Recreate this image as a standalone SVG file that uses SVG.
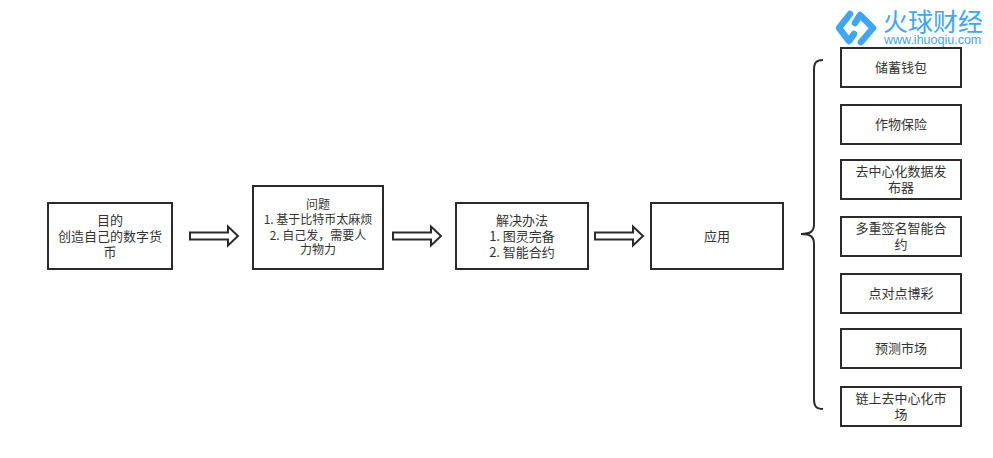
<svg xmlns="http://www.w3.org/2000/svg" width="993" height="458" viewBox="0 0 993 458">
<style>
.b{fill:#fff;stroke:#2b2b2b;stroke-width:2}
.t{font-family:"Noto Sans CJK SC","Liberation Sans",sans-serif;font-size:13px;fill:#333;text-anchor:middle}
.s{font-size:12px}
.a{fill:#fff;stroke:#2b2b2b;stroke-width:2}
.l{fill:none;stroke:#3fa5f8;stroke-width:6.500;stroke-linecap:round;stroke-linejoin:round}
</style>
<rect width="993" height="458" fill="#fff"/>
<g id="connectors">
<path class="a" d="M190 232.500H228V226.500L238 236L228 245.500V239.500H190Z"/>
<path class="a" d="M393 232.500H431V226.500L441 236L431 245.500V239.500H393Z"/>
<path class="a" d="M595 232.500H633V226.500L643 236L633 245.500V239.500H595Z"/>
<path d="M823 60C816 60 814 63 814 70V224C814 231 811 234 801 234C811 234 814 237 814 244V399C814 406 816 409 823 409" fill="none" stroke="#2b2b2b" stroke-width="2"/>
</g>
<g id="n1"><rect class="b" x="48" y="203" width="124" height="66"/><text class="t"><tspan x="110" y="225">目的</tspan><tspan x="110" y="241">创造自己的数字货</tspan><tspan x="110" y="257">币</tspan></text></g>
<g id="n2"><rect class="b" x="253" y="186" width="130" height="83"/><text class="t s"><tspan x="318" y="209">问题</tspan><tspan x="318" y="224">1. 基于比特币太麻烦</tspan><tspan x="318" y="240">2. 自己发，需要人</tspan><tspan x="318" y="254">力物力</tspan></text></g>
<g id="n3"><rect class="b" x="456" y="203" width="132" height="66"/><text class="t"><tspan x="522" y="225">解决办法</tspan><tspan x="522" y="241">1. 图灵完备</tspan><tspan x="522" y="257">2. 智能合约</tspan></text></g>
<g id="n4"><rect class="b" x="651" y="203" width="132" height="66"/><text class="t" x="717" y="241">应用</text></g>
<g id="a1"><rect class="b" x="841" y="48" width="120" height="39"/><text class="t" x="901" y="72">储蓄钱包</text></g>
<g id="a2"><rect class="b" x="841" y="105" width="120" height="39"/><text class="t" x="901" y="129">作物保险</text></g>
<g id="a3"><rect class="b" x="841" y="160" width="120" height="39"/><text class="t"><tspan x="901" y="176">去中心化数据发</tspan><tspan x="901" y="192">布器</tspan></text></g>
<g id="a4"><rect class="b" x="841" y="217" width="120" height="39"/><text class="t"><tspan x="901" y="233">多重签名智能合</tspan><tspan x="901" y="249">约</tspan></text></g>
<g id="a5"><rect class="b" x="841" y="274" width="120" height="39"/><text class="t" x="901" y="298">点对点博彩</text></g>
<g id="a6"><rect class="b" x="841" y="329" width="120" height="39"/><text class="t" x="901" y="353">预测市场</text></g>
<g id="a7"><rect class="b" x="841" y="387" width="120" height="39"/><text class="t"><tspan x="901" y="403">链上去中心化市</tspan><tspan x="901" y="419">场</tspan></text></g>
<g id="logo">
<path class="l" d="M850 14L839 28L849 41L854 34"/>
<path class="l" d="M855 23L860 15L873 28L861 42"/>
<text style="fill:#3fa5f8"><tspan x="883" y="31" style="font-family:'Noto Sans CJK SC',sans-serif;font-size:25px">火球财经</tspan><tspan x="884" y="44" style="font-family:'Liberation Sans',sans-serif;font-size:12.500px">www.ihuoqiu.com</tspan></text>
</g>
</svg>
